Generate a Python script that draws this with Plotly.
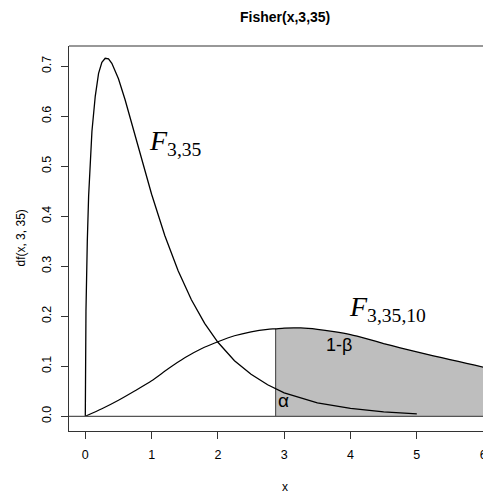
import plotly.graph_objects as go

# F(3,35) density
x_central = [0, 0.01, 0.03, 0.05, 0.1, 0.15, 0.2, 0.25, 0.3, 0.35, 0.4, 0.5, 0.6, 0.7, 0.8, 0.9,
             1.0, 1.2, 1.4, 1.6, 1.8, 2.0, 2.25, 2.5, 2.75, 3.0, 3.5, 4.0, 4.5, 5.0]
y_central = [0, 0.21, 0.35, 0.44, 0.57, 0.64, 0.686, 0.708, 0.716, 0.715, 0.706, 0.675, 0.633,
             0.586, 0.537, 0.489, 0.444, 0.361, 0.291, 0.233, 0.186, 0.148, 0.111, 0.084,
             0.063, 0.047, 0.027, 0.016, 0.009, 0.005]

# Non-central F(3,35,10) density
x_noncentral = [0, 0.25, 0.5, 0.75, 1.0, 1.25, 1.5, 1.75, 2.0, 2.25, 2.5, 2.75, 2.87, 3.0,
                3.25, 3.5, 3.75, 4.0, 4.25, 4.5, 4.75, 5.0, 5.25, 5.5, 5.75, 6.0, 6.25]
y_noncentral = [0, 0.015, 0.032, 0.051, 0.071, 0.095, 0.117, 0.135, 0.149, 0.161, 0.169,
                0.174, 0.175, 0.1765, 0.1767, 0.174, 0.1695, 0.1635, 0.155, 0.1455, 0.137,
                0.129, 0.121, 0.1135, 0.106, 0.0985, 0.0915]

critical_value = 2.87
x_ticks = [0, 1, 2, 3, 4, 5, 6]
y_ticks = [0.0, 0.1, 0.2, 0.3, 0.4, 0.5, 0.6, 0.7]

title_text = "Fisher(x,3,35)"
x_label = "x"
y_label = "df(x, 3, 35)"

sans = "Liberation Sans, Arial, sans-serif"
serif = "Liberation Serif, Times New Roman, serif"

# shaded region (1-beta)
shade_x = [critical_value] + [x for x in x_noncentral if x >= critical_value]
shade_y = [y for x, y in zip(x_noncentral, y_noncentral) if x >= critical_value]
shade_top_at_crit = shade_y[0]
shade_y = [shade_top_at_crit] + shade_y
poly_x = shade_x + [shade_x[-1], critical_value]
poly_y = shade_y + [0, 0]

fig = go.Figure()
fig.add_trace(go.Scatter(x=poly_x, y=poly_y, mode="lines", fill="toself",
                         fillcolor="#BEBEBE", line=dict(width=0), hoverinfo="skip"))
fig.add_trace(go.Scatter(x=[critical_value, critical_value], y=[0, shade_top_at_crit],
                         mode="lines", line=dict(color="#555555", width=1.2), hoverinfo="skip"))
fig.add_trace(go.Scatter(x=x_noncentral, y=y_noncentral, mode="lines",
                         line=dict(color="black", width=1.2, shape="spline", smoothing=0.6)))
fig.add_trace(go.Scatter(x=x_central, y=y_central, mode="lines",
                         line=dict(color="black", width=1.3)))

fig.add_shape(type="line", xref="paper", yref="y", x0=0, x1=1, y0=0, y1=0,
              line=dict(color="#555555", width=1.2))
fig.add_shape(type="line", xref="paper", yref="paper", x0=0, x1=1, y0=1, y1=1,
              line=dict(color="#333333", width=1.2))

annotations = [
    dict(text="<i>F</i><sub>3,35</sub>", x=1.36, y=0.548, xref="x", yref="y",
         font=dict(family=serif, size=28, color="black")),
    dict(text="<i>F</i><sub>3,35,10</sub>", x=4.56, y=0.215, xref="x", yref="y",
         font=dict(family=serif, size=28, color="black")),
    dict(text="1-β", x=3.82, y=0.143, xref="x", yref="y",
         font=dict(family=sans, size=18, color="black")),
    dict(text="α", x=2.99, y=0.031, xref="x", yref="y",
         font=dict(family=sans, size=19, color="black")),
    dict(text="<b>" + title_text + "</b>", x=0.512, y=1.0745, xref="paper", yref="paper",
         font=dict(family=sans, size=14, color="black")),
    dict(text=x_label, x=0.512, y=-0.146, xref="paper", yref="paper",
         font=dict(family=sans, size=12, color="black")),
    dict(text=y_label, x=-0.116, y=0.5, xref="paper", yref="paper", textangle=-90,
         font=dict(family=sans, size=12, color="black")),
]
for a in annotations:
    a.update(showarrow=False, xanchor="center", yanchor="middle")
fig.update_layout(annotations=annotations)

# the page adds an 8px body margin, so the figure is sized/offset to compensate
fig.update_layout(
    width=483, height=485,
    margin=dict(l=61, r=0, t=38, b=62),
    paper_bgcolor="white", plot_bgcolor="white",
    showlegend=False,
    font=dict(family=sans, size=12.5, color="black"),
    xaxis=dict(range=[-0.246, 6.119], tickvals=x_ticks, ticktext=[str(v) for v in x_ticks],
               showgrid=False, zeroline=False, showline=True, linecolor="#333333", linewidth=1.2,
               ticks="outside", ticklen=7, tickcolor="#333333", tickwidth=1,
               ticklabelstandoff=5, ticklabeloverflow="allow"),
    yaxis=dict(range=[-0.0294, 0.7406], tickvals=y_ticks, ticktext=[f"{v:.1f}" for v in y_ticks],
               showgrid=False, zeroline=False, showline=True, linecolor="#333333", linewidth=1.2,
               ticks="outside", ticklen=7, tickcolor="#333333", tickwidth=1, tickangle=-90,
               ticklabelstandoff=5, ticklabeloverflow="allow"),
)

fig.write_html("out.html")
